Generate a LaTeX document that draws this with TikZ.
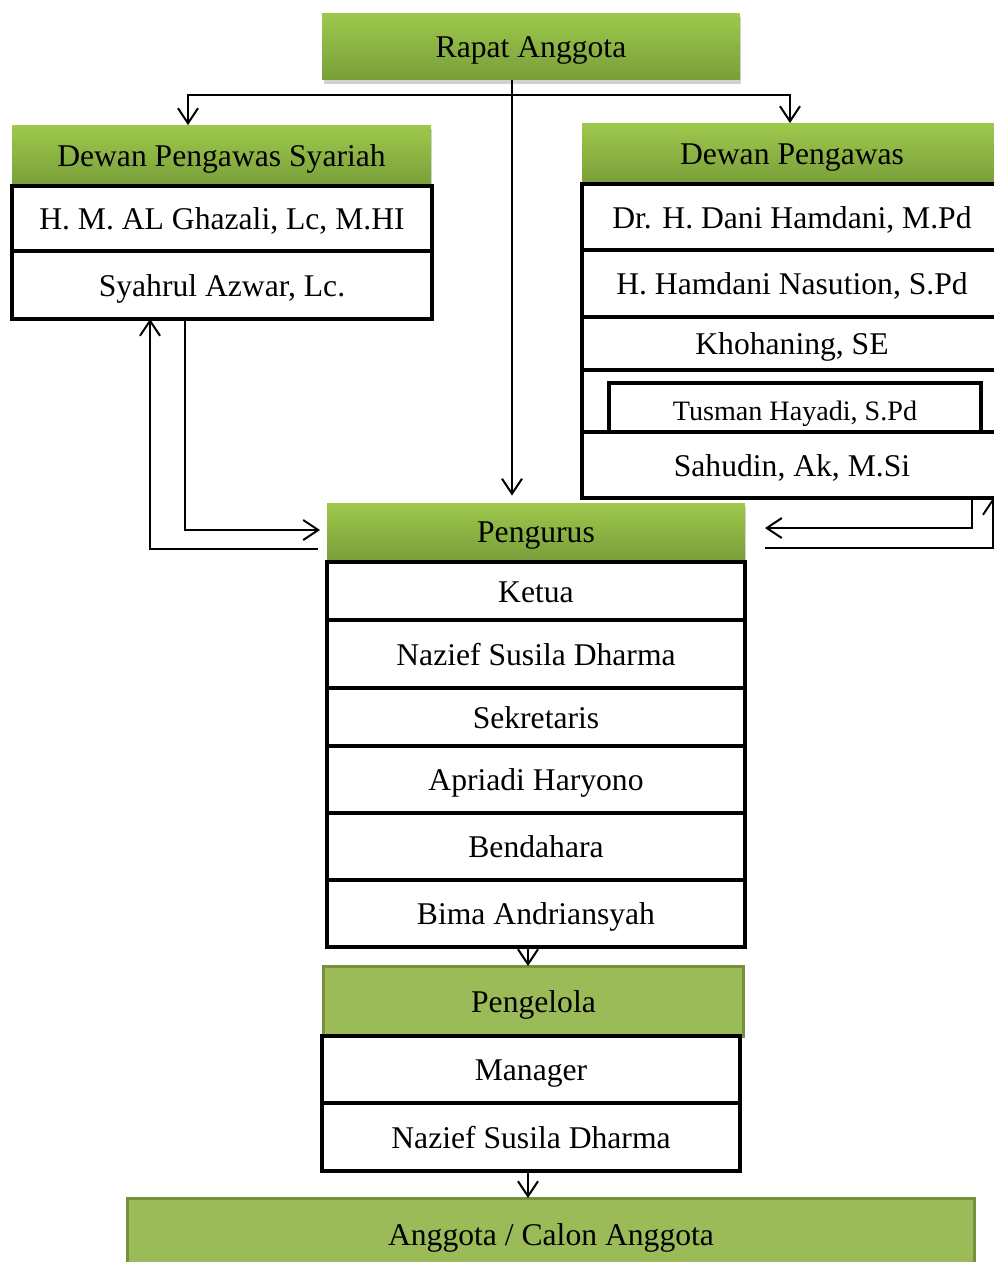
\documentclass[tikz,border=0pt]{standalone}
\usepackage{fontspec}
\setmainfont{Liberation Serif}
\usetikzlibrary{arrows.meta,shadows}

\definecolor{hijauMuda}{RGB}{158,201,76}
\definecolor{hijauTua}{RGB}{121,158,58}
\definecolor{hijauRata}{RGB}{155,187,89}
\definecolor{hijauTepi}{RGB}{118,146,60}

\tikzset{
  teks/.style={font=\fontsize{18}{22}\selectfont, text height=17pt, text depth=4pt},
  kepala/.style={teks, rectangle, inner sep=0pt, outer sep=0pt, top color=hijauMuda, bottom color=hijauTua,
    drop shadow={shadow xshift=0.03cm, shadow yshift=-0.08cm, opacity=0.3, fill=black!60}},
  baris/.style={teks, rectangle, inner sep=0pt, outer sep=0pt, draw=black, line width=0.08cm, fill=white},
  rata/.style={teks, rectangle, inner sep=0pt, outer sep=0pt, draw=hijauTepi, line width=0.06cm, fill=hijauRata},
  panah/.style={-{Straight Barb[length=0.3cm,width=0.4cm]}, line width=0.04cm},
}

\begin{document}
\begin{tikzpicture}[x=0.02cm, y=-0.02cm]
  \useasboundingbox (0,0) rectangle (994,1262);
  \clip (0,0) rectangle (994,1262);

  % Rapat Anggota
  \node at (531,46.5) [kepala, minimum width=8.36cm, minimum height=1.34cm] (rapat) {Rapat Anggota};

  % Dewan Pengawas Syariah
  \node at (221.5,155.5) [kepala, minimum width=8.38cm, minimum height=1.22cm] (dps) {Dewan Pengawas Syariah};
  \node at (222,218.5) [baris, minimum width=8.4cm, minimum height=1.3cm] (ghazali) {H. M. AL Ghazali, Lc, M.HI};
  \node at (222,285) [baris, minimum width=8.4cm, minimum height=1.36cm] (syahrul) {Syahrul Azwar, Lc.};

  % Dewan Pengawas
  \node at (792,153.5) [kepala, minimum width=8.4cm, minimum height=1.22cm] (dp) {Dewan Pengawas};
  \node at (792,217) [baris, minimum width=8.4cm, minimum height=1.32cm] (dani) {Dr. H. Dani Hamdani, M.Pd};
  \node at (792,283.5) [baris, minimum width=8.4cm, minimum height=1.34cm] (hamdani) {H. Hamdani Nasution, S.Pd};
  \node at (792,343.5) [baris, minimum width=8.4cm, minimum height=1.06cm] (khohaning) {Khohaning, SE};
  \node at (792,401) [baris, minimum width=8.4cm, minimum height=1.24cm] (barisTusman) {};
  \node at (795,407.5) [baris, minimum width=7.44cm, minimum height=0.98cm,
    font=\fontsize{16}{18}\selectfont, text height=19pt, text depth=4pt] (tusman) {Tusman Hayadi, S.Pd};
  \node at (792,465) [baris, minimum width=8.4cm, minimum height=1.32cm] (sahudin) {Sahudin, Ak, M.Si};

  % Pengurus
  \node at (536,531.5) [kepala, minimum width=8.36cm, minimum height=1.14cm] (pengurus) {Pengurus};
  \node at (536,591) [baris, minimum width=8.36cm, minimum height=1.16cm] (ketua) {Ketua};
  \node at (536,654) [baris, minimum width=8.36cm, minimum height=1.36cm] (nazief) {Nazief Susila Dharma};
  \node at (536,717) [baris, minimum width=8.36cm, minimum height=1.16cm] (sekretaris) {Sekretaris};
  \node at (536,779.5) [baris, minimum width=8.36cm, minimum height=1.34cm] (apriadi) {Apriadi Haryono};
  \node at (536,846.5) [baris, minimum width=8.36cm, minimum height=1.34cm] (bendahara) {Bendahara};
  \node at (536,913.5) [baris, minimum width=8.36cm, minimum height=1.34cm] (bima) {Bima Andriansyah};

  % Pengelola
  \node at (533.5,1001) [rata, minimum width=8.42cm, minimum height=1.4cm] (pengelola) {Pengelola};
  \node at (531,1069.5) [baris, minimum width=8.36cm, minimum height=1.34cm] (manager) {Manager};
  \node at (531,1137) [baris, minimum width=8.36cm, minimum height=1.36cm] (naziefDua) {Nazief Susila Dharma};

  % Anggota
  \node at (551,1234) [rata, minimum width=16.96cm, minimum height=1.44cm] (anggota) {Anggota / Calon Anggota};

  % Garis dari Rapat Anggota
  \coordinate (cabang) at (512,95);
  \coordinate (kiri) at (188,95);
  \coordinate (kanan) at (790,95);
  \draw[panah, shorten >=0.15cm] (rapat.south -| cabang) -- (pengurus.north -| cabang);
  \draw[panah] (cabang) -- (kiri) -- (kiri |- dps.north);
  \draw[panah] (cabang) -- (kanan) -- (kanan |- dp.north);

  % Garis kiri
  \coordinate (kiriA) at (185,530);
  \coordinate (kiriUjung) at (320,530);
  \coordinate (kiriB) at (318,549);
  \coordinate (kiriSudut) at (150,549);
  \draw[panah] (syahrul.south -| kiriA) -- (kiriA) -- (kiriUjung);
  \draw[panah] (kiriB) -- (kiriSudut) -- (kiriSudut |- syahrul.south);

  % Garis kanan
  \coordinate (kananA) at (765,528);
  \coordinate (kananC) at (972,528);
  \coordinate (kananB) at (765,548);
  \coordinate (tepi) at (993,548);
  \draw[panah] (kananC |- sahudin.south) -- (kananC) -- (kananA);
  \draw[panah] (kananB) -- (tepi) -- (tepi |- sahudin.south);

  % Garis bawah
  \coordinate (tengah) at (528,0);
  \draw[panah] (bima.south -| tengah) -- (pengelola.north -| tengah);
  \draw[panah] (naziefDua.south -| tengah) -- (anggota.north -| tengah);
\end{tikzpicture}
\end{document}
